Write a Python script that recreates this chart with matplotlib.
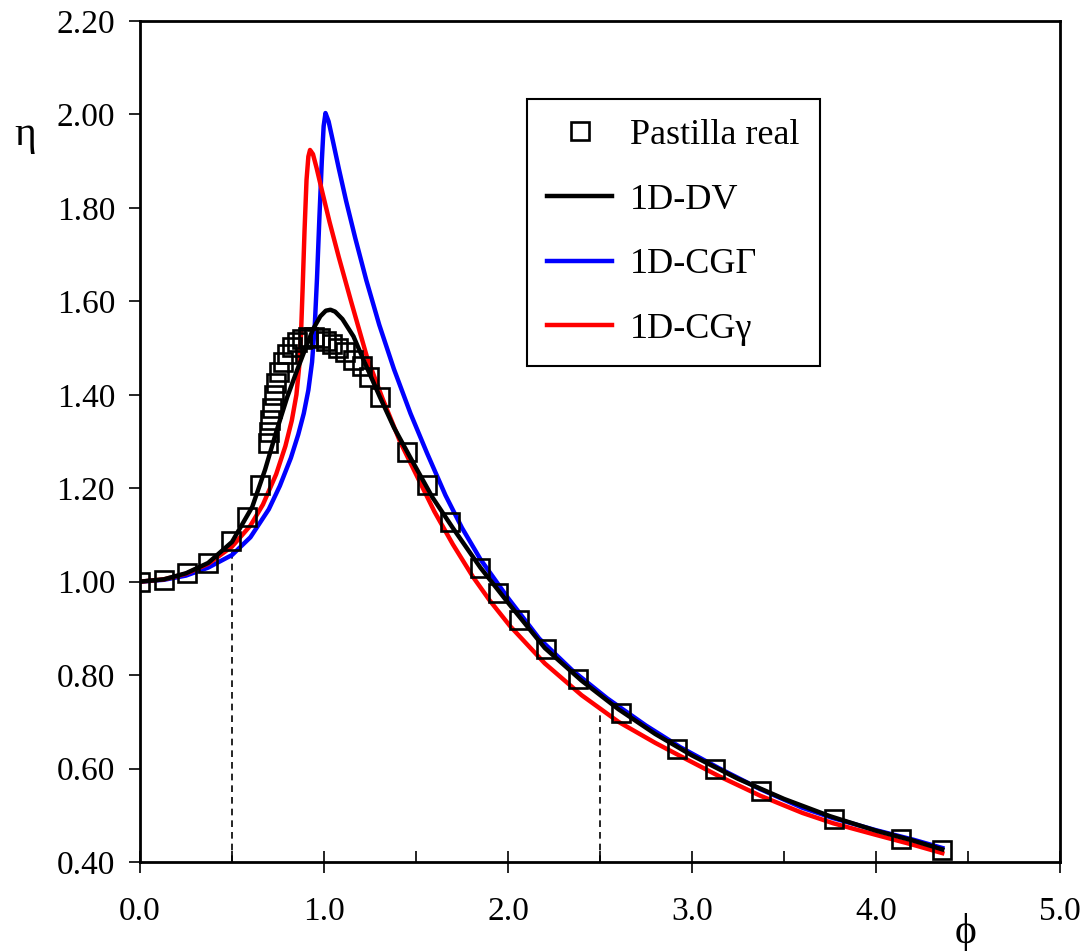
import numpy as np
import matplotlib
matplotlib.use('Agg')
from matplotlib import pyplot as plt
from matplotlib.ticker import MultipleLocator, FormatStrFormatter

plt.rcParams['font.family'] = ['Liberation Serif', 'DejaVu Serif']

# experimental points (Pastilla real)
exp_x = [0.0, 0.13, 0.255, 0.37, 0.495, 0.58, 0.65, 0.696, 0.701, 0.707, 0.717,
         0.728, 0.739, 0.755, 0.777, 0.799, 0.826, 0.853, 0.88, 0.913, 0.946,
         0.978, 1.011, 1.043, 1.076, 1.114, 1.158, 1.207, 1.245, 1.304, 1.451,
         1.56, 1.685, 1.848, 1.946, 2.06, 2.207, 2.38, 2.614, 2.918, 3.125,
         3.375, 3.772, 4.136, 4.359]
exp_y = [1.0, 1.004, 1.019, 1.04, 1.087, 1.139, 1.207, 1.297, 1.32, 1.346, 1.372,
         1.4, 1.425, 1.449, 1.47, 1.487, 1.502, 1.513, 1.519, 1.524, 1.524,
         1.522, 1.515, 1.509, 1.5, 1.492, 1.475, 1.462, 1.438, 1.395, 1.278,
         1.207, 1.128, 1.029, 0.976, 0.918, 0.856, 0.792, 0.719, 0.642, 0.599,
         0.552, 0.492, 0.449, 0.426]

# 1D-DV
dv_x = [0.0, 0.13, 0.25, 0.37, 0.5, 0.61, 0.68, 0.74, 0.8, 0.853, 0.9, 0.94,
        0.98, 1.01, 1.035, 1.06, 1.1, 1.16, 1.22, 1.304, 1.38, 1.47, 1.59, 1.7,
        1.85, 2.0, 2.2, 2.4, 2.6, 2.8, 3.0, 3.25, 3.5, 3.75, 4.0, 4.2, 4.36]
dv_y = [1.0, 1.005, 1.018, 1.04, 1.085, 1.16, 1.24, 1.32, 1.395, 1.452, 1.50, 1.54,
        1.568, 1.58, 1.582, 1.578, 1.562, 1.525, 1.47, 1.395, 1.33, 1.265, 1.18,
        1.115, 1.03, 0.955, 0.858, 0.788, 0.727, 0.674, 0.628, 0.578, 0.535,
        0.498, 0.467, 0.446, 0.427]

# 1D-CG Gamma
cgG_x = [0.0, 0.13, 0.25, 0.37, 0.5, 0.6, 0.7, 0.76, 0.82, 0.86, 0.89, 0.915,
         0.935, 0.95, 0.962, 0.975, 0.988, 0.998, 1.008, 1.025, 1.05, 1.08, 1.12,
         1.17, 1.23, 1.30, 1.38, 1.47, 1.56, 1.66, 1.75, 1.85, 2.0, 2.17, 2.35,
         2.54, 2.75, 2.935, 3.15, 3.37, 3.6, 3.766, 4.0, 4.2, 4.36]
cgG_y = [1.0, 1.004, 1.013, 1.03, 1.057, 1.095, 1.155, 1.205, 1.265, 1.315, 1.36,
         1.41, 1.47, 1.55, 1.65, 1.78, 1.90, 1.975, 2.003, 1.985, 1.94, 1.885,
         1.815, 1.735, 1.645, 1.55, 1.455, 1.36, 1.275, 1.185, 1.115, 1.048, 0.965,
         0.878, 0.81, 0.75, 0.692, 0.646, 0.60, 0.556, 0.516, 0.494, 0.468, 0.448,
         0.43]

# 1D-CG gamma
cgg_x = [0.0, 0.13, 0.25, 0.37, 0.5, 0.6, 0.668, 0.74, 0.79, 0.825, 0.85, 0.865,
         0.875, 0.884, 0.894, 0.905, 0.915, 0.924, 0.94, 0.96, 0.99, 1.03, 1.08,
         1.147, 1.234, 1.32, 1.413, 1.50, 1.60, 1.70, 1.81, 1.90, 2.011, 2.2, 2.4,
         2.6, 2.8, 2.935, 3.15, 3.37, 3.6, 3.766, 4.0, 4.2, 4.36]
cgg_y = [1.0, 1.005, 1.017, 1.038, 1.075, 1.12, 1.165, 1.23, 1.29, 1.345, 1.40,
         1.46, 1.53, 1.63, 1.75, 1.86, 1.91, 1.924, 1.915, 1.885, 1.835, 1.77,
         1.695, 1.60, 1.48, 1.39, 1.30, 1.23, 1.15, 1.08, 1.01, 0.96, 0.905, 0.825,
         0.757, 0.70, 0.655, 0.627, 0.583, 0.542, 0.505, 0.483, 0.458, 0.437, 0.419]

# dashed guide lines
guide_x = [0.5, 2.5]
guide_top = [1.065, 0.73]

fig = plt.figure(figsize=(10.87, 9.51), dpi=100)
ax = fig.add_axes([0.1288, 0.0936, 0.9752 - 0.1288, 0.9779 - 0.0936])

for gx, gt in zip(guide_x, guide_top):
    ax.plot([gx, gx], [0.40, gt], color='black', ls=(0, (4, 3)), lw=1.2)

ax.plot(dv_x, dv_y, color='black', lw=3.2, label='1D-DV', zorder=3)
ax.plot(cgG_x, cgG_y, color='#0000ff', lw=3.2, label='1D-CG\u0393', zorder=2)
ax.plot(cgg_x, cgg_y, color='#ff0000', lw=3.2, label='1D-CG\u03b3', zorder=2)
ax.plot(exp_x, exp_y, ls='none', marker='s', ms=12.5, mfc='none', mec='black',
        mew=1.9, label='Pastilla real', zorder=4)

ax.set_xlim(0, 5)
ax.set_ylim(0.40, 2.20)
ax.xaxis.set_major_locator(MultipleLocator(1.0))
ax.xaxis.set_minor_locator(MultipleLocator(0.5))
ax.yaxis.set_major_locator(MultipleLocator(0.2))
ax.xaxis.set_major_formatter(FormatStrFormatter('%.1f'))
ax.yaxis.set_major_formatter(FormatStrFormatter('%.2f'))
ax.tick_params(axis='x', which='major', direction='inout', length=16, width=1.2,
               labelsize=24, pad=17)
ax.tick_params(axis='x', which='minor', direction='in', length=8, width=1.2)
ax.tick_params(axis='y', which='major', direction='out', length=8, width=1.2,
               labelsize=24, pad=10)
for s in ax.spines.values():
    s.set_linewidth(2)

h, l = ax.get_legend_handles_labels()
order = [3, 0, 1, 2]
leg = ax.legend([h[i] for i in order], [l[i] for i in order],
                loc='upper left', bbox_to_anchor=(0.421, 0.9075),
                fontsize=26, frameon=True, fancybox=False, framealpha=1,
                edgecolor='black', handlelength=1.8, handletextpad=0.5,
                labelspacing=0.87, borderpad=0.55, borderaxespad=0)
leg.get_frame().set_linewidth(1.5)

fig.text(25 / 1087, 1 - 135 / 951, '\u03b7', fontsize=30, ha='center', va='center')
fig.text(966 / 1087, 1 - 933 / 951, '\u03d5', fontsize=30, ha='center', va='center')

fig.savefig('out.png', dpi=100)
